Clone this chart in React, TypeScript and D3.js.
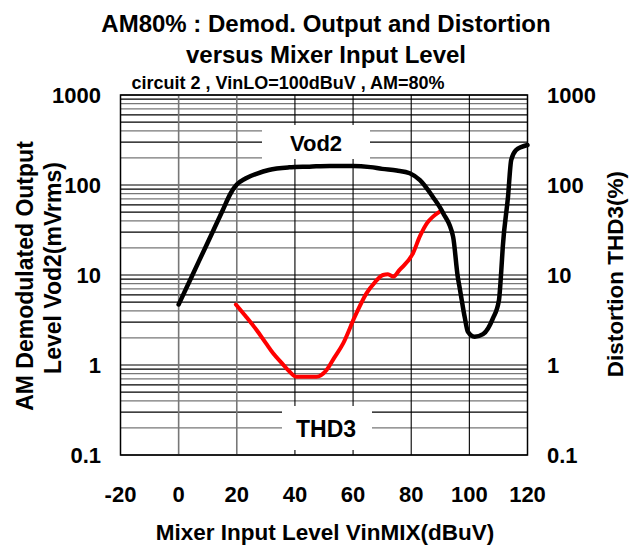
import React from "react";
import * as d3 from "d3";

const xTicks = [-20, 0, 20, 40, 60, 80, 100, 120];
const yTicks = [0.1, 1, 10, 100, 1000];
const yTickLabels = ["0.1", "1", "10", "100", "1000"];

const vodX = [0, 5, 10, 15, 18, 20, 23, 27, 31, 38, 45, 52, 60, 66, 70, 75, 79.5, 83, 87.4, 91, 94.4, 96, 96.8, 98.4, 99.5, 101.8, 104.7, 108.1, 110.2, 111, 111.5, 113.3, 114.4, 116.1, 118, 120];
const vodY = [4.7, 10.4, 23, 51, 82, 101, 118, 134, 147, 157, 160, 163, 163, 158, 151, 145, 135, 113, 74, 48.6, 26.7, 9.6, 6.8, 3.4, 2.34, 2.06, 2.2, 3.3, 5.3, 11.4, 20.6, 74, 190, 245, 265, 278];

const thdX = [19.7, 23, 26.8, 30, 32.5, 35.5, 38.2, 40.5, 44, 47.4, 50.9, 53.5, 56.6, 60.6, 64.6, 67.5, 70.3, 72, 73.8, 76, 80.6, 83, 85.5, 87.5, 89.8];
const thdY = [4.7, 3.5, 2.45, 1.75, 1.35, 1.05, 0.84, 0.74, 0.74, 0.74, 0.88, 1.2, 1.74, 3.44, 6.25, 8.3, 10, 10.2, 9.6, 11.4, 17.4, 27, 38, 44.5, 50.6];

const FONT = "'Liberation Sans', Arial, sans-serif";

export default function App() {
  const L = 120.5, R = 527.5, T = 95, B = 455;
  const x = d3.scaleLinear().domain([-20, 120]).range([L, R]);
  const y = d3.scaleLog().domain([0.1, 1000]).range([B, T]);

  const minors: { v: number; c: string }[] = [];
  const colorFor: Record<number, string> = { 2: "#777", 3: "#000", 4: "#777", 5: "#000", 6: "#000", 7: "#777", 8: "#777", 9: "#000" };
  for (const dec of [0.1, 1, 10, 100]) {
    for (let m = 2; m <= 9; m++) minors.push({ v: dec * m, c: colorFor[m] });
  }

  const gen = d3
    .line<[number, number]>()
    .x((d) => x(d[0]))
    .y((d) => y(d[1]))
    .curve(d3.curveMonotoneX);
  const vodPath = gen(vodX.map((v, i) => [v, vodY[i]] as [number, number]));
  const thdPath = gen(thdX.map((v, i) => [v, thdY[i]] as [number, number]));

  return (
    <svg width={629} height={552} style={{ position: "absolute", left: 0, top: 0, background: "#fff" }} fontFamily={FONT}>
      <rect x={0} y={0} width={629} height={552} fill="#fff" />
      {/* title */}
      <text x={326} y={32} textAnchor="middle" fontSize={24} fontWeight="bold">AM80% : Demod. Output and Distortion</text>
      <text x={326} y={63} textAnchor="middle" fontSize={24} fontWeight="bold">versus Mixer Input Level</text>
      <text x={288} y={88.5} textAnchor="middle" fontSize={18} fontWeight="bold">circuit 2 , VinLO=100dBuV , AM=80%</text>

      {/* horizontal grid */}
      {minors.map((m, i) => (
        <line key={"h" + i} x1={L} x2={R} y1={y(m.v)} y2={y(m.v)} stroke={m.c} strokeWidth={1.2} />
      ))}
      {yTicks.map((t, i) => (
        <line key={"hm" + i} x1={L} x2={R} y1={y(t)} y2={y(t)} stroke="#000" strokeWidth={1.2} />
      ))}
      {/* vertical grid */}
      {xTicks.slice(1, -1).map((t, i) => (
        <line key={"v" + i} x1={x(t)} x2={x(t)} y1={T} y2={B} stroke={t <= 20 ? "#777" : "#000"} strokeWidth={t <= 20 ? 1.6 : 1.1} />
      ))}

      {/* label boxes */}
      <rect x={262} y={125} width={108} height={34} fill="#fff" />
      <text x={316} y={143} textAnchor="middle" dominantBaseline="central" fontSize={22} fontWeight="bold">Vod2</text>
      <rect x={282} y={406} width={90} height={44} fill="#fff" />
      <text x={326} y={429} textAnchor="middle" dominantBaseline="central" fontSize={23} fontWeight="bold">THD3</text>

      {/* frame */}
      <rect x={L} y={T} width={R - L} height={B - T} fill="none" stroke="#000" strokeWidth={1.5} />

      {/* curves */}
      <path d={thdPath || ""} fill="none" stroke="#ff0000" strokeWidth={4} strokeLinejoin="round" strokeLinecap="round" />
      <path d={vodPath || ""} fill="none" stroke="#000" strokeWidth={4.5} strokeLinejoin="round" strokeLinecap="round" />

      {/* y tick labels */}
      {yTicks.map((t, i) => (
        <text key={"yl" + i} x={101} y={y(t)} textAnchor="end" dominantBaseline="central" fontSize={22} fontWeight="bold">{yTickLabels[i]}</text>
      ))}
      {yTicks.map((t, i) => (
        <text key={"yr" + i} x={547} y={y(t)} textAnchor="start" dominantBaseline="central" fontSize={22} fontWeight="bold">{yTickLabels[i]}</text>
      ))}
      {/* x tick labels */}
      {xTicks.map((t, i) => (
        <text key={"xl" + i} x={x(t)} y={494} textAnchor="middle" dominantBaseline="central" fontSize={22} fontWeight="bold">{t}</text>
      ))}

      {/* axis titles */}
      <text x={325} y={540} textAnchor="middle" fontSize={22.5} fontWeight="bold">Mixer Input Level VinMIX(dBuV)</text>
      <text transform="translate(33,276) rotate(-90)" textAnchor="middle" fontSize={23} fontWeight="bold">AM Demodulated Output</text>
      <text transform="translate(61,268) rotate(-90)" textAnchor="middle" fontSize={23} fontWeight="bold">Level Vod2(mVrms)</text>
      <text transform="translate(623,274) rotate(-90)" textAnchor="middle" fontSize={22.5} fontWeight="bold">Distortion THD3(%)</text>
    </svg>
  );
}
